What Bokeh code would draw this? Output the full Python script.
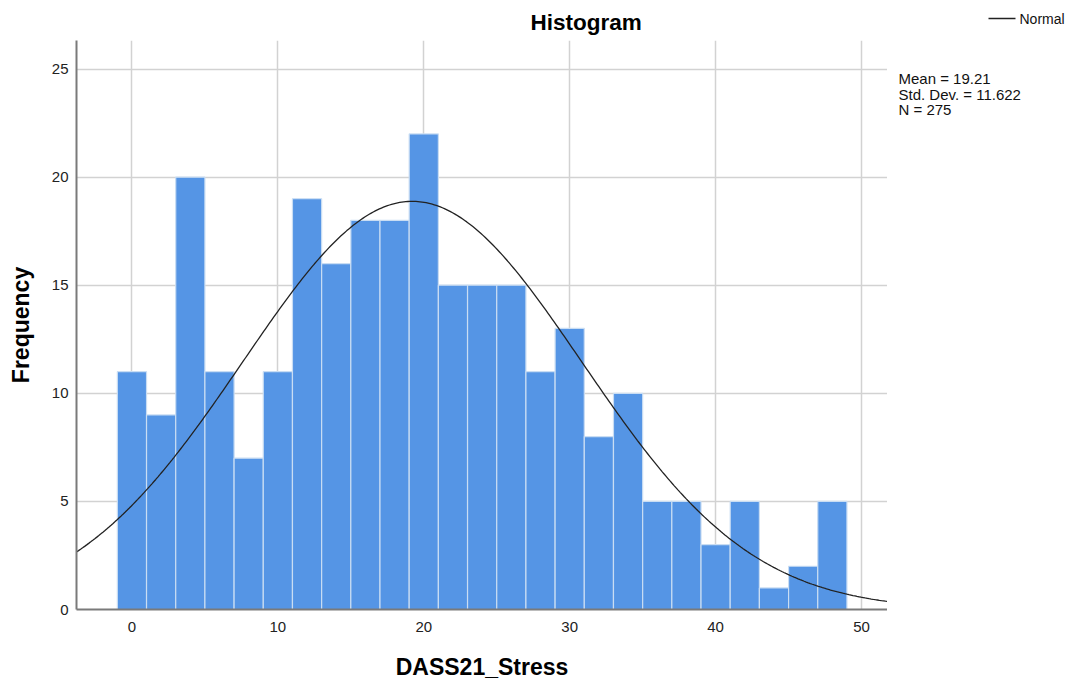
import numpy as np
from bokeh.plotting import figure
from bokeh.layouts import row, column
from bokeh.models import Range1d, FixedTicker
from bokeh.core.properties import value
from bokeh.embed import file_html
from bokeh.resources import INLINE

# ---- data ----
bin_centers = [0, 2, 4, 6, 8, 10, 12, 14, 16, 18, 20, 22, 24, 26, 28, 30, 32, 34, 36, 38, 40, 42, 44, 46, 48]
frequencies = [11, 9, 20, 11, 7, 11, 19, 16, 18, 18, 22, 15, 15, 15, 11, 13, 8, 10, 5, 5, 3, 5, 1, 2, 5]
bin_width = 2
mean_val = 19.21
std_dev = 11.622
n_obs = 275
x_ticks = [0, 10, 20, 30, 40, 50]
y_ticks = [0, 5, 10, 15, 20, 25]

FONT = "Liberation Sans"
X_MIN, X_MAX = -3.8, 51.78
CURVE_COLOR = "#222222"

p = figure(width=887, height=686, output_backend="svg", toolbar_location=None,
           x_range=Range1d(X_MIN, X_MAX), y_range=Range1d(0, 26.32),
           min_border_left=76, min_border_right=0, min_border_top=40, min_border_bottom=77,
           title="Histogram")
p.outline_line_color = None
p.background_fill_color = "white"

# title
p.title.text_font = FONT
p.title.text_font_size = "22.5px"
p.title.text_font_style = "bold"
p.title.text_color = "#000000"
p.title.align = "left"
p.title.offset = 454
p.title.standoff = 12

# bars
left = [c - bin_width / 2 for c in bin_centers]
right = [c + bin_width / 2 for c in bin_centers]
p.quad(left=left, right=right, bottom=0, top=frequencies,
       fill_color="#5595e5", line_color="#c9ddf3", line_width=1.2)

# normal curve from the chart's stated mean, std dev and N
xs = np.linspace(X_MIN, X_MAX, 400)
ys = n_obs * bin_width / (std_dev * np.sqrt(2 * np.pi)) * np.exp(-0.5 * ((xs - mean_val) / std_dev) ** 2)
p.line(xs, ys, line_color=CURVE_COLOR, line_width=1.3)

# axes
for ax in (p.xaxis[0], p.yaxis[0]):
    ax.axis_line_color = "#7a7a7a"
    ax.axis_line_width = 2
    ax.major_tick_line_color = None
    ax.minor_tick_line_color = None
    ax.major_label_text_font = FONT
    ax.major_label_text_font_size = "15px"
    ax.major_label_text_color = "#222222"
    ax.axis_label_text_font = FONT
    ax.axis_label_text_font_size = "23px"
    ax.axis_label_text_font_style = "bold"
    ax.axis_label_text_color = "#000000"

p.xaxis.ticker = FixedTicker(ticks=x_ticks)
p.yaxis.ticker = FixedTicker(ticks=y_ticks)
p.xaxis.axis_label = "DASS21_Stress"
p.yaxis.axis_label = "Frequency"
p.xaxis.major_label_standoff = 6
p.yaxis.major_label_standoff = 2
p.xaxis.axis_label_standoff = 19
p.yaxis.axis_label_standoff = 15

# grid
p.xgrid.ticker = FixedTicker(ticks=x_ticks)
p.ygrid.ticker = FixedTicker(ticks=y_ticks)
p.grid.grid_line_color = "#d2d2d2"
p.grid.grid_line_width = 1.5
p.grid.level = "underlay"

# ---- right-hand side panel (pixel-like coordinates, y downwards): legend and statistics ----
side = figure(width=181, height=686, output_backend="svg", toolbar_location=None,
              x_range=Range1d(0, 181), y_range=Range1d(686, 0),
              x_axis_type=None, y_axis_type=None,
              min_border_left=0, min_border_right=0, min_border_top=0, min_border_bottom=0)
side.outline_line_color = None
side.grid.visible = False
side.background_fill_color = "white"

# legend key: line sample + label
side.segment(x0=[101], y0=[18], x1=[128], y1=[18], line_color=CURVE_COLOR, line_width=1.3)
side.text(x=[132], y=[18], text=["Normal"], text_font=value(FONT), text_font_size="14px",
          text_color="#111111", text_baseline="middle", text_align="left")

stats = [f"Mean = {mean_val:.2f}", f"Std. Dev. = {std_dev:.3f}", f"N = {n_obs}"]
side.text(x=[11, 11, 11], y=[78, 93.5, 109], text=stats, text_font=value(FONT),
          text_font_size="15px", text_color="#111111", text_baseline="middle", text_align="left")

layout = row(p, column(side, spacing=0), spacing=0)
open("out.html", "w").write(file_html(layout, INLINE))
